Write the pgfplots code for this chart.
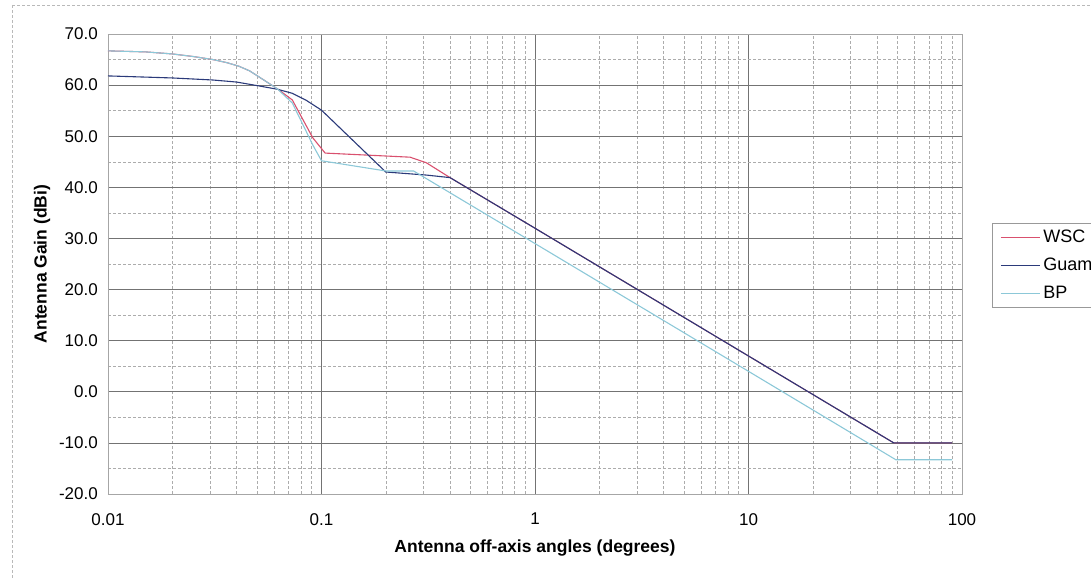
\documentclass[border=0pt]{standalone}
\usepackage{fontspec}
\setmainfont{Liberation Sans}
\usepackage{pgfplots}
\pgfplotsset{compat=1.18}

\definecolor{wsc}{HTML}{D9506E}
\definecolor{guam}{HTML}{2B3A7A}
\definecolor{bp}{HTML}{8CC8D8}

\begin{document}
\begin{tikzpicture}
\useasboundingbox (0,0) rectangle (1091pt,579pt);
% scanned chart frame
\draw[gray!55, densely dashed] (12pt,574pt) -- (1091pt,574pt);
\draw[gray!55, densely dashed] (12pt,574pt) -- (12pt,0pt);
\begin{axis}[
  at={(108pt,85pt)}, anchor=south west,
  width=854pt, height=460pt, scale only axis,
  xmode=log, xmin=0.01, xmax=100,
  ymin=-20, ymax=70, ytick distance=10, minor y tick num=1,
  xtick={0.01,0.1,1,10,100},
  xticklabels={0.01,0.1,1,10,100},
  major tick length=0pt, minor tick length=0pt,
  grid=both,
  major grid style={black!55, line width=0.6pt},
  minor grid style={gray!65, densely dashed, line width=0.5pt},
  axis line style={gray!70},
  /pgf/number format/assume math mode=true,
  yticklabel={\pgfmathprintnumber[fixed, fixed zerofill, precision=1]{\tick}},
  ticklabel style={font=\fontsize{17}{20}\selectfont},
  yticklabel style={inner sep=0pt, anchor=east, xshift=-10pt},
  xticklabel style={inner sep=0pt, anchor=north, yshift=-19pt},
  xlabel={Antenna off-axis angles (degrees)},
  ylabel={Antenna Gain (dBi)},
  label style={font=\bfseries\fontsize{17.5}{20}\selectfont},
  xlabel style={at={(axis description cs:0.5,-0.1174)}, anchor=center},
  ylabel style={at={(axis description cs:-0.0773,0.5)}, anchor=center},
  legend style={at={(1,1)}, anchor=north west, xshift=30pt, yshift=-189pt,
    draw=gray!80, inner xsep=8pt, inner ysep=7pt,
    nodes={inner sep=0pt}, row sep=14pt, column sep=3pt,
    font=\fontsize{18}{21}\selectfont},
  legend cell align=left,
  legend image code/.code={\draw[#1] (0pt,0pt) -- (39pt,0pt);},
]
% WSC
\addplot[wsc, line width=1.1pt] coordinates {
 (0.01,66.7) (0.015,66.5) (0.02,66.1) (0.025,65.6) (0.031,65.0)
 (0.036,64.4) (0.041,63.7) (0.046,62.8) (0.051,61.6) (0.062,59.3)
 (0.073,57.1) (0.091,49.7) (0.104,46.7) (0.26,45.9) (0.31,44.8)
 (0.40,41.9) (1,32) (10,7) (47.9,-10) (90,-10)
};
% Guam
\addplot[guam, line width=1.1pt] coordinates {
 (0.01,61.8) (0.02,61.4) (0.031,61.0) (0.04,60.6) (0.05,59.9)
 (0.062,59.2) (0.073,58.4) (0.085,57.0) (0.1,55.1) (0.2,43.0)
 (0.31,42.4) (0.4,41.9) (1,32) (10,7) (47.9,-10) (90,-10)
};
% BP
\addplot[bp, line width=1.1pt] coordinates {
 (0.01,66.7) (0.015,66.5) (0.02,66.1) (0.025,65.6) (0.031,65.0)
 (0.036,64.4) (0.041,63.7) (0.046,62.8) (0.051,61.6) (0.062,59.3)
 (0.073,56.5) (0.082,52.2) (0.091,48.3) (0.1,45.2) (0.2,43.2)
 (0.27,43.2) (1,29) (10,4) (49,-13.3) (90,-13.3)
};
\legend{WSC, Guam, BP}
\end{axis}
\end{tikzpicture}
\end{document}
